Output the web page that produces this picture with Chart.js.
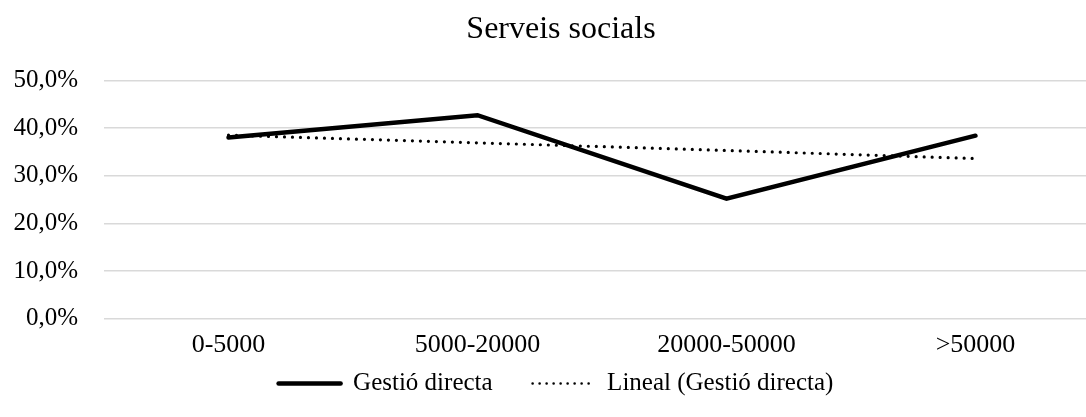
<!DOCTYPE html>
<html>
<head>
<meta charset="utf-8">
<script src="https://cdn.jsdelivr.net/npm/chart.js@4"></script>
<style>
  html, body { margin: 0; padding: 0; background: #fff; overflow: hidden; }
  #wrap { width: 1086px; height: 417px; overflow: hidden; }
  #box { width: 1100px; height: 417px; }
</style>
</head>
<body>
<div id="wrap"><div id="box"><canvas id="c"></canvas></div></div>
<script>
// Population size brackets
const categories = ['0-5000', '5000-20000', '20000-50000', '>50000'];
// Share of direct management (%)
const gestioDirecta = [38.0, 42.7, 25.2, 38.4];
// Linear trend of the direct-management series (%)
const linealGestio = [38.5, 36.9, 35.3, 33.6];
// Y-axis ticks (%)
const yTicks = [0, 10, 20, 30, 40, 50];

const FONT = "'Liberation Serif', 'Times New Roman', serif";

// The legend needs wide horizontal gaps between its items but should sit
// right under the axis labels: lift it after layout, and centre the title
// a little further right.
const boxNudge = {
  id: 'boxNudge',
  afterLayout(chart) {
    const lg = chart.legend;
    if (lg) { lg.top -= 40.3; lg.bottom -= 40.3; }
    const tb = chart.titleBlock;
    if (tb) { tb.left += 5; tb.right += 5; }
  }
};

new Chart(document.getElementById('c'), {
  type: 'line',
  plugins: [boxNudge],
  data: {
    labels: categories,
    datasets: [
      {
        label: 'Gestió directa',
        data: gestioDirecta,
        borderColor: '#000',
        backgroundColor: '#000',
        borderWidth: 4.5,
        borderCapStyle: 'round',
        borderJoinStyle: 'miter',
        pointRadius: 0,
        tension: 0
      },
      {
        label: 'Lineal (Gestió directa)',
        data: linealGestio,
        borderColor: '#000',
        backgroundColor: '#000',
        borderWidth: 3.2,
        borderDash: [0, 8],
        borderCapStyle: 'round',
        pointRadius: 0,
        tension: 0
      }
    ]
  },
  options: {
    responsive: true,
    maintainAspectRatio: false,
    animation: false,
    layout: { padding: { left: 12, right: 0, top: 0, bottom: -29.3 } },
    plugins: {
      title: {
        display: true,
        text: 'Serveis socials',
        color: '#000',
        font: { family: FONT, size: 32, weight: 'normal' },
        padding: { top: 10, bottom: 32 }
      },
      legend: {
        display: true,
        position: 'bottom',
        labels: {
          color: '#000',
          font: { family: FONT, size: 25 },
          usePointStyle: true,
          pointStyle: 'line',
          pointStyleWidth: 62,
          padding: 40,
          // carry each dataset's own stroke (dash, width, caps) into its legend sample
          generateLabels: (chart) => {
            const items = Chart.defaults.plugins.legend.labels.generateLabels(chart);
            items.forEach((it) => {
              const ds = chart.data.datasets[it.datasetIndex];
              it.lineDash = ds.borderDash ? [0, 7] : [];
              it.lineWidth = ds.borderDash ? 2.6 : ds.borderWidth;
              it.lineCap = 'round';
              it.strokeStyle = ds.borderColor;
            });
            return items;
          }
        }
      },
      tooltip: { enabled: false }
    },
    scales: {
      x: {
        offset: true,
        grid: { display: false, drawTicks: false },
        border: { display: false },
        ticks: {
          color: '#000',
          font: { family: FONT, size: 26 },
          padding: 10.7,
          maxRotation: 0
        }
      },
      y: {
        min: 0,
        max: 50,
        afterBuildTicks: (axis) => { axis.ticks = yTicks.map(v => ({ value: v })); },
        afterFit: (axis) => { axis.width = 92; },
        grid: { color: '#d9d9d9', lineWidth: 1.5, drawTicks: false },
        border: { display: false },
        ticks: {
          color: '#000',
          font: { family: FONT, size: 25 },
          padding: 26,
          callback: (v) => v.toFixed(1).replace('.', ',') + '%'
        }
      }
    }
  }
});
</script>
</body>
</html>
